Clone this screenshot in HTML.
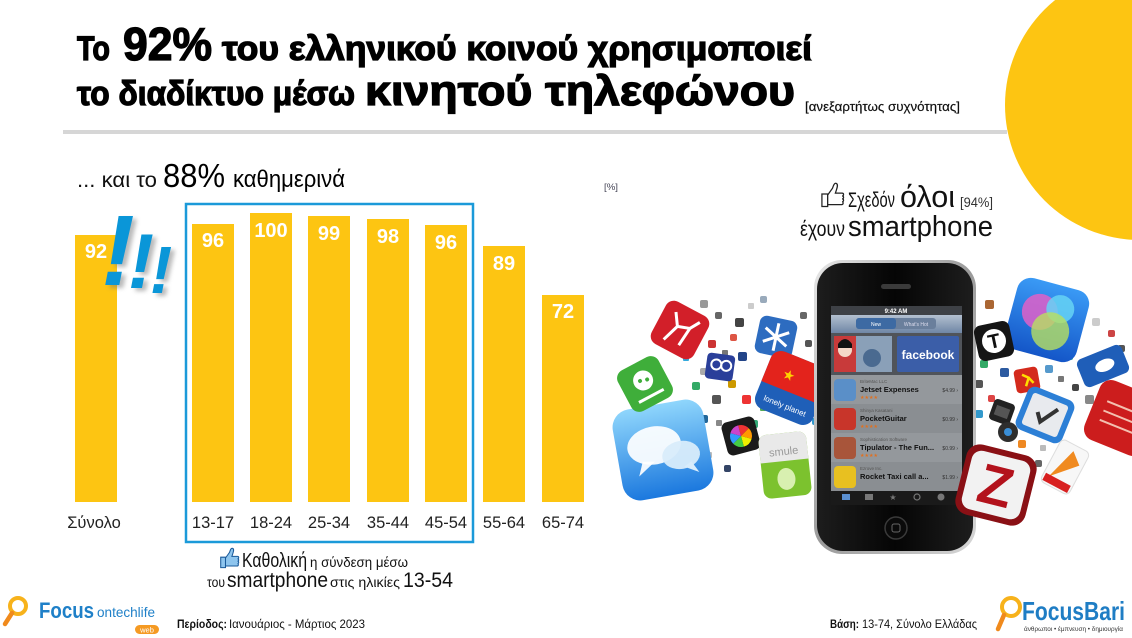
<!DOCTYPE html>
<html><head><meta charset="utf-8">
<style>
html,body{margin:0;padding:0;background:#fff;}
body{width:1132px;height:638px;overflow:hidden;position:relative;}
svg{position:absolute;left:0;top:0;}
text{font-family:"Liberation Sans","DejaVu Sans",sans-serif;}
</style></head><body>
<svg width="1132" height="638" viewBox="0 0 1132 638" xmlns="http://www.w3.org/2000/svg">
<defs>
  <symbol id="thumb" viewBox="0 0 26 30">
    <path d="M2 14 h6 v13 h-6 z" />
    <path d="M8 15 L13 8 C14 5 15 2 17 3 C19 4 18 7 17 10 L16 13 H23 C25 13 25 16 23 16 C25 16 25 19 23 19 C25 19 25 22 23 22 C24.5 22 24.5 25 22.5 25 H8 Z"/>
  </symbol>
  <linearGradient id="gChat" x1="0" y1="0" x2="0" y2="1"><stop offset="0" stop-color="#8fd6fc"/><stop offset="1" stop-color="#1b78de"/></linearGradient>
  <linearGradient id="gVenn" x1="0" y1="0" x2="0" y2="1"><stop offset="0" stop-color="#3a9af5"/><stop offset="1" stop-color="#1456c8"/></linearGradient>
  <linearGradient id="gNav" x1="0" y1="0" x2="0" y2="1"><stop offset="0" stop-color="#b3c0d0"/><stop offset="1" stop-color="#6f86a5"/></linearGradient>
  <linearGradient id="gRim" x1="0" y1="0" x2="1" y2="1"><stop offset="0" stop-color="#e8e8e8"/><stop offset="0.5" stop-color="#9a9a9a"/><stop offset="1" stop-color="#d8d8d8"/></linearGradient>
  <linearGradient id="gBody" x1="0" y1="0" x2="1" y2="0"><stop offset="0" stop-color="#1d1d1d"/><stop offset="0.5" stop-color="#050505"/><stop offset="1" stop-color="#1d1d1d"/></linearGradient>
  <filter id="sh" x="-30%" y="-30%" width="160%" height="160%"><feGaussianBlur stdDeviation="2"/></filter>
</defs>

<!-- yellow circle -->
<circle cx="1140" cy="105" r="135" fill="#FDC512"/>
<!-- gray rule -->
<rect x="63" y="130" width="944" height="4" fill="#d6d6d6"/>

<!-- Title -->
<g fill="#000" stroke="#000" stroke-width="1.3" font-weight="bold">
  <text x="77" y="60" font-size="34" textLength="33" lengthAdjust="spacingAndGlyphs">Το</text>
  <text x="123" y="60" font-size="46" textLength="89" lengthAdjust="spacingAndGlyphs">92%</text>
  <text x="222" y="60" font-size="34" textLength="590" lengthAdjust="spacingAndGlyphs">του ελληνικού κοινού χρησιμοποιεί</text>
  <text x="77" y="105" font-size="34" textLength="278" lengthAdjust="spacingAndGlyphs">το διαδίκτυο μέσω</text>
  <text x="365" y="105" font-size="42" textLength="430" lengthAdjust="spacingAndGlyphs">κινητού τηλεφώνου</text>
</g>
<text x="805" y="111" font-size="13" fill="#111" stroke="#111" stroke-width="0.2" textLength="155" lengthAdjust="spacingAndGlyphs">[ανεξαρτήτως συχνότητας]</text>

<!-- subheading -->
<text x="77" y="187" font-size="21" fill="#111" textLength="80" lengthAdjust="spacingAndGlyphs">... και το</text>
<text x="163" y="187" font-size="33" fill="#000" textLength="62" lengthAdjust="spacingAndGlyphs">88%</text>
<text x="233" y="187" font-size="24" fill="#000" textLength="112" lengthAdjust="spacingAndGlyphs">καθημερινά</text>
<text x="604" y="190" font-size="9" fill="#445" textLength="14" lengthAdjust="spacingAndGlyphs">[%]</text>

<!-- Bars -->
<g fill="#FDC512">
  <rect x="75" y="235" width="42" height="267"/>
  <rect x="192" y="224" width="42" height="278"/>
  <rect x="250" y="213" width="42" height="289"/>
  <rect x="308" y="216" width="42" height="286"/>
  <rect x="367" y="219" width="42" height="283"/>
  <rect x="425" y="225" width="42" height="277"/>
  <rect x="483" y="246" width="42" height="256"/>
  <rect x="542" y="295" width="42" height="207"/>
</g>
<g fill="#fff" font-size="20" font-weight="bold" text-anchor="middle">
  <text x="96" y="258">92</text>
  <text x="213" y="247">96</text>
  <text x="271" y="237">100</text>
  <text x="329" y="240">99</text>
  <text x="388" y="243">98</text>
  <text x="446" y="249">96</text>
  <text x="504" y="270">89</text>
  <text x="563" y="318">72</text>
</g>
<g fill="#222" font-size="16.5" text-anchor="middle">
  <text x="94" y="528">Σύνολο</text>
  <text x="213" y="528">13-17</text>
  <text x="271" y="528">18-24</text>
  <text x="329" y="528">25-34</text>
  <text x="388" y="528">35-44</text>
  <text x="446" y="528">45-54</text>
  <text x="504" y="528">55-64</text>
  <text x="563" y="528">65-74</text>
</g>
<!-- blue box -->
<rect x="186" y="204" width="287" height="338" fill="none" stroke="#1b9ad9" stroke-width="2.5"/>

<!-- exclamation marks -->
<g font-weight="bold" font-style="italic" text-anchor="middle">
  <g fill="#777" opacity="0.5" filter="url(#sh)">
    <text x="122" y="288" font-size="100">!</text>
    <text x="145" y="291" font-size="78">!</text>
    <text x="165" y="296" font-size="67">!</text>
  </g>
  <g fill="#0a96d8">
    <text x="118" y="285" font-size="100">!</text>
    <text x="141" y="288" font-size="78">!</text>
    <text x="161" y="293" font-size="67">!</text>
  </g>
</g>

<!-- Right text -->
<use href="#thumb" x="820" y="180" width="25" height="30" fill="#fff" stroke="#222" stroke-width="1.3"/>
<text x="848" y="207" font-size="21" fill="#111" textLength="47" lengthAdjust="spacingAndGlyphs">Σχεδόν</text>
<text x="900" y="207" font-size="31" fill="#111" textLength="55" lengthAdjust="spacingAndGlyphs">όλοι</text>
<text x="960" y="207" font-size="14" fill="#333" textLength="33" lengthAdjust="spacingAndGlyphs">[94%]</text>
<text x="800" y="236" font-size="21" fill="#111" textLength="45" lengthAdjust="spacingAndGlyphs">έχουν</text>
<text x="848" y="236" font-size="29" fill="#111" textLength="145" lengthAdjust="spacingAndGlyphs">smartphone</text>

<!-- ===== phone image ===== -->
<g>
  <rect x="700" y="300" width="8" height="8" rx="2" fill="#999"/>
  <rect x="715" y="312" width="7" height="7" rx="2" fill="#666"/>
  <rect x="735" y="318" width="9" height="9" rx="2" fill="#444"/>
  <rect x="748" y="303" width="6" height="6" rx="1" fill="#ccc"/>
  <rect x="760" y="296" width="7" height="7" rx="2" fill="#9ab"/>
  <rect x="708" y="340" width="8" height="8" rx="2" fill="#c33"/>
  <rect x="722" y="350" width="6" height="6" rx="1" fill="#777"/>
  <rect x="738" y="352" width="9" height="9" rx="2" fill="#248"/>
  <rect x="700" y="368" width="7" height="7" rx="2" fill="#aaa"/>
  <rect x="692" y="382" width="8" height="8" rx="2" fill="#3a6"/>
  <rect x="712" y="395" width="9" height="9" rx="2" fill="#555"/>
  <rect x="728" y="380" width="8" height="8" rx="2" fill="#c90"/>
  <rect x="742" y="395" width="9" height="9" rx="2" fill="#e33"/>
  <rect x="700" y="415" width="8" height="8" rx="2" fill="#269"/>
  <rect x="716" y="420" width="6" height="6" rx="1" fill="#888"/>
  <rect x="690" y="438" width="7" height="7" rx="2" fill="#444"/>
  <rect x="706" y="452" width="6" height="6" rx="1" fill="#bbb"/>
  <rect x="760" y="405" width="6" height="6" rx="1" fill="#5a5"/>
  <rect x="724" y="465" width="7" height="7" rx="2" fill="#346"/>
  <rect x="815" y="440" width="8" height="8" rx="2" fill="#cc3"/>
  <rect x="812" y="418" width="7" height="7" rx="2" fill="#39c"/>
  <rect x="818" y="300" width="6" height="6" rx="1" fill="#bbb"/>
  <rect x="800" y="312" width="7" height="7" rx="2" fill="#666"/>
  <rect x="690" y="330" width="6" height="6" rx="1" fill="#ccc"/>
  <rect x="683" y="355" width="6" height="6" rx="1" fill="#3ad"/>
  <rect x="730" y="334" width="7" height="7" rx="2" fill="#d54"/>
  <rect x="750" y="420" width="8" height="8" rx="2" fill="#3a7"/>
  <rect x="805" y="340" width="7" height="7" rx="2" fill="#555"/>
  <rect x="985" y="300" width="9" height="9" rx="2" fill="#a63"/>
  <rect x="975" y="380" width="8" height="8" rx="2" fill="#555"/>
  <rect x="988" y="395" width="7" height="7" rx="2" fill="#d44"/>
  <rect x="975" y="410" width="8" height="8" rx="2" fill="#39c"/>
  <rect x="1070" y="300" width="7" height="7" rx="2" fill="#666"/>
  <rect x="1092" y="318" width="8" height="8" rx="2" fill="#ccc"/>
  <rect x="1108" y="330" width="7" height="7" rx="2" fill="#c44"/>
  <rect x="1085" y="395" width="9" height="9" rx="2" fill="#888"/>
  <rect x="1100" y="390" width="7" height="7" rx="2" fill="#2a6"/>
  <rect x="1018" y="440" width="8" height="8" rx="2" fill="#e82"/>
  <rect x="1040" y="445" width="6" height="6" rx="1" fill="#bbb"/>
  <rect x="1118" y="345" width="7" height="7" rx="2" fill="#555"/>
  <rect x="1065" y="352" width="8" height="8" rx="2" fill="#3b8"/>
  <rect x="1072" y="384" width="7" height="7" rx="2" fill="#444"/>
  <rect x="1045" y="365" width="8" height="8" rx="2" fill="#59c"/>
  <rect x="1058" y="376" width="6" height="6" rx="1" fill="#777"/>
  <rect x="968" y="440" width="8" height="8" rx="2" fill="#b33"/>
  <rect x="1035" y="460" width="7" height="7" rx="2" fill="#666"/>
  <rect x="980" y="360" width="8" height="8" rx="2" fill="#3a6"/>
  <rect x="1000" y="368" width="9" height="9" rx="2" fill="#2c5aa0"/>
  <rect x="968" y="320" width="6" height="6" rx="1" fill="#a44"/>
</g>

<!-- big icons left -->
<g transform="translate(663,450) rotate(-10)">
  <rect x="-46" y="-46" width="92" height="92" rx="18" fill="url(#gChat)"/>
  <ellipse cx="-8" cy="-6" rx="27" ry="19" fill="#fff" opacity="0.92"/>
  <path d="M-22 8 L-28 22 L-10 10 Z" fill="#fff" opacity="0.92"/>
  <ellipse cx="17" cy="8" rx="19" ry="14" fill="#d8ecfb" opacity="0.95"/>
  <path d="M26 16 L32 28 L18 20 Z" fill="#d8ecfb"/>
</g>
<g transform="translate(680,330) rotate(28)">
  <rect x="-24" y="-24" width="48" height="48" rx="9" fill="#d21f29"/>
  <path d="M-10 16 L-4 -2 L-12 -14 M-4 -2 L8 -6 L14 -16 M8 -6 L6 14" stroke="#fff" stroke-width="3" fill="none"/>
</g>
<g transform="translate(645,384) rotate(-28)">
  <rect x="-23" y="-23" width="46" height="46" rx="9" fill="#3fae3a"/>
  <circle cx="0" cy="-4" r="10" fill="#fff"/>
  <circle cx="-3" cy="-5" r="2" fill="#3fae3a"/><circle cx="4" cy="-3" r="2" fill="#3fae3a"/>
  <rect x="-14" y="12" width="28" height="3" fill="#fff"/>
</g>
<g transform="translate(776,337) rotate(12)">
  <rect x="-19" y="-19" width="38" height="38" rx="7" fill="#2d6cc0"/>
  <path d="M0 -14 V14 M-12 -7 L12 7 M-12 7 L12 -7" stroke="#fff" stroke-width="3"/>
</g>
<g transform="translate(720,367) rotate(8)">
  <rect x="-14" y="-13" width="28" height="26" rx="4" fill="#2a3f9a"/>
  <circle cx="-4" cy="-2" r="5" fill="none" stroke="#fff" stroke-width="2"/>
  <circle cx="6" cy="-2" r="5" fill="none" stroke="#fff" stroke-width="2"/>
</g>
<g transform="translate(792,388) rotate(22)">
  <rect x="-31" y="-31" width="62" height="62" rx="11" fill="#1f5fb8"/>
  <path d="M-31 5 V-20 A11 11 0 0 1 -20 -31 H20 A11 11 0 0 1 31 -20 V5 Z" fill="#e3231c"/>
  <text x="-14" y="-6" font-size="14" fill="#ffd400">★</text>
  <text x="0" y="22" font-size="8" fill="#fff" text-anchor="middle">lonely planet</text>
</g>
<g transform="translate(741,436) rotate(-15)">
  <rect x="-17" y="-17" width="34" height="34" rx="6" fill="#1a1a1a"/>
  <path d="M0 0 L0 -11 A11 11 0 0 1 9.5 -5.5 Z" fill="#e33"/>
  <path d="M0 0 L9.5 -5.5 A11 11 0 0 1 9.5 5.5 Z" fill="#f90"/>
  <path d="M0 0 L9.5 5.5 A11 11 0 0 1 0 11 Z" fill="#ee0"/>
  <path d="M0 0 L0 11 A11 11 0 0 1 -9.5 5.5 Z" fill="#4c4"/>
  <path d="M0 0 L-9.5 5.5 A11 11 0 0 1 -9.5 -5.5 Z" fill="#39f"/>
  <path d="M0 0 L-9.5 -5.5 A11 11 0 0 1 0 -11 Z" fill="#c4c"/>
</g>
<g transform="translate(785,465) rotate(-6)">
  <rect x="-24" y="-32" width="48" height="64" rx="8" fill="#7cc22e"/>
  <path d="M-24 -4 V-24 A8 8 0 0 1 -16 -32 H16 A8 8 0 0 1 24 -24 V-4 Z" fill="#e9e9e9"/>
  <text x="0" y="-10" font-size="11" fill="#999" text-anchor="middle">smule</text>
  <ellipse cx="0" cy="14" rx="9" ry="11" fill="#d8f0b0"/>
</g>

<!-- phone -->
<rect x="814" y="260" width="162" height="294" rx="28" fill="url(#gRim)"/>
<rect x="817" y="263" width="156" height="288" rx="26" fill="url(#gBody)"/>
<rect x="881" y="284" width="30" height="5" rx="2.5" fill="#3a3a3a"/>
<rect x="831" y="306" width="131" height="199" fill="#85898e"/>
<rect x="831" y="306" width="131" height="9" fill="#3e4146"/>
<text x="896" y="313" font-size="6" fill="#fff" text-anchor="middle" font-weight="bold">9:42 AM</text>
<rect x="831" y="315" width="131" height="18" fill="url(#gNav)"/>
<rect x="856" y="318" width="80" height="11" rx="3" fill="#6a7f9c"/>
<rect x="856" y="318" width="40" height="11" rx="3" fill="#3d6aa3"/>
<text x="876" y="326" font-size="5" fill="#fff" text-anchor="middle">New</text>
<text x="916" y="326" font-size="5" fill="#dde" text-anchor="middle">What's Hot</text>
<rect x="831" y="333" width="131" height="42" fill="#50545a"/>
<rect x="834" y="336" width="58" height="36" fill="#8aa0b8"/>
<rect x="834" y="336" width="22" height="36" fill="#c83a3a"/>
<circle cx="845" cy="350" r="7" fill="#f4d8c8"/>
<path d="M838 344 Q845 334 852 344 L852 348 L838 348 Z" fill="#111"/>
<circle cx="872" cy="358" r="9" fill="#4a6a90"/>
<rect x="897" y="336" width="62" height="36" rx="2" fill="#3b5ea8"/>
<text x="928" y="359" font-size="12" fill="#fff" text-anchor="middle" font-weight="bold">facebook</text>
<g>
  <rect x="831" y="375" width="131" height="29" fill="#94989c"/>
  <rect x="831" y="404" width="131" height="29" fill="#8a8e92"/>
  <rect x="831" y="433" width="131" height="29" fill="#94989c"/>
  <rect x="831" y="462" width="131" height="29" fill="#8a8e92"/>
  <rect x="834" y="379" width="22" height="22" rx="4" fill="#5a8fc8"/>
  <rect x="834" y="408" width="22" height="22" rx="4" fill="#c8352a"/>
  <rect x="834" y="437" width="22" height="22" rx="4" fill="#a8553a"/>
  <rect x="834" y="466" width="22" height="22" rx="4" fill="#e8c020"/>
  <g font-size="4.5" fill="#555">
    <text x="860" y="383">BriteMac LLC</text>
    <text x="860" y="412">Shinya Kasatani</text>
    <text x="860" y="441">Sophistication Software</text>
    <text x="860" y="470">Ezrove Inc.</text>
  </g>
  <g font-size="7.5" fill="#111" font-weight="bold">
    <text x="860" y="392">Jetset Expenses</text>
    <text x="860" y="421">PocketGuitar</text>
    <text x="860" y="450">Tipulator - The Fun...</text>
    <text x="860" y="479">Rocket Taxi call a...</text>
  </g>
  <g font-size="5" fill="#e07020">
    <text x="860" y="399">★★★★</text>
    <text x="860" y="428">★★★★</text>
    <text x="860" y="457">★★★★</text>
  </g>
  <g font-size="5" fill="#333" text-anchor="end">
    <text x="958" y="392">$4.99 ›</text>
    <text x="958" y="421">$0.99 ›</text>
    <text x="958" y="450">$0.99 ›</text>
    <text x="958" y="479">$1.99 ›</text>
  </g>
</g>
<rect x="831" y="491" width="131" height="14" fill="#1a1a1a"/>
<g fill="#777">
  <rect x="842" y="494" width="8" height="6" fill="#5a8fd0"/>
  <rect x="865" y="494" width="8" height="6"/>
  <text x="893" y="500" font-size="8" text-anchor="middle">★</text>
  <circle cx="917" cy="497" r="3" fill="none" stroke="#777" stroke-width="1.2"/>
  <circle cx="941" cy="497" r="3.5"/>
</g>
<circle cx="896" cy="528" r="11" fill="#0a0a0a" stroke="#3a3a3a" stroke-width="1.5"/>
<rect x="892" y="524" width="8" height="8" rx="2" fill="none" stroke="#666" stroke-width="1"/>

<!-- big icons right -->
<g transform="translate(1047,320) rotate(15)">
  <rect x="-37" y="-37" width="74" height="74" rx="14" fill="url(#gVenn)"/>
  <circle cx="-9" cy="-6" r="18" fill="#e060c8" opacity="0.85"/>
  <circle cx="10" cy="-14" r="14" fill="#66d4f4" opacity="0.85"/>
  <circle cx="6" cy="10" r="19" fill="#b8e060" opacity="0.8"/>
</g>
<g transform="translate(994,341) rotate(-12)">
  <rect x="-18" y="-18" width="36" height="36" rx="7" fill="#151515"/>
  <circle cx="0" cy="0" r="12" fill="#fff"/>
  <text x="0" y="7" font-size="20" fill="#111" text-anchor="middle" font-weight="bold" font-family="Liberation Serif, serif">T</text>
</g>
<g transform="translate(1027,380) rotate(-10)">
  <rect x="-12" y="-12" width="24" height="24" rx="4" fill="#d42a1c"/>
  <path d="M-4 -6 L2 -2 L-2 6 M2 -2 L6 4" stroke="#fd0" stroke-width="2.5" fill="none"/>
</g>
<g transform="translate(1002,412) rotate(20)">
  <rect x="-11" y="-11" width="22" height="22" rx="4" fill="#222"/>
  <rect x="-7" y="-5" width="14" height="10" fill="#555"/>
</g>
<circle cx="1008" cy="432" r="10" fill="#2e2e2e"/>
<circle cx="1008" cy="432" r="4" fill="#3a8fd8"/>
<g transform="translate(1045,415) rotate(22)">
  <rect x="-25" y="-23" width="50" height="46" rx="8" fill="#2c7fd6"/>
  <rect x="-19" y="-17" width="38" height="34" rx="3" fill="#e8eaee"/>
  <path d="M-8 0 L-2 8 L10 -10" stroke="#333" stroke-width="4" fill="none"/>
</g>
<g transform="translate(1103,366) rotate(-22)">
  <rect x="-24" y="-15" width="48" height="30" rx="6" fill="#1f5eb8"/>
  <ellipse cx="2" cy="0" rx="10" ry="6" fill="#fff"/>
</g>
<g transform="translate(1122,418) rotate(22)">
  <rect x="-32" y="-32" width="64" height="64" rx="12" fill="#cc1d1d"/>
  <path d="M-20 -10 H20 M-20 0 H20 M-20 10 H20" stroke="#f3c0b0" stroke-width="2"/>
</g>
<g transform="translate(1065,467) rotate(28)">
  <rect x="-16" y="-24" width="32" height="48" rx="5" fill="#f7f7f7" stroke="#ddd"/>
  <path d="M-10 16 L0 -18 L12 -8 Z" fill="#f08a20"/>
  <rect x="-14" y="14" width="28" height="8" fill="#d82020"/>
</g>
<g transform="translate(996,485) rotate(14)">
  <rect x="-36" y="-36" width="72" height="72" rx="14" fill="#8a1015"/>
  <rect x="-30" y="-30" width="60" height="60" rx="10" fill="#f2f2f2"/>
  <text x="0" y="20" font-size="56" fill="#b3121c" text-anchor="middle" font-weight="bold">Z</text>
</g>

<!-- bottom caption -->
<use href="#thumb" x="219" y="546" width="21" height="24" fill="#8ec5ee" stroke="#1a5a9a" stroke-width="1.3"/>
<text x="242" y="567" font-size="20" fill="#111" textLength="65" lengthAdjust="spacingAndGlyphs">Καθολική</text>
<text x="310" y="567" font-size="14" fill="#111" textLength="98" lengthAdjust="spacingAndGlyphs">η σύνδεση μέσω</text>
<text x="207" y="587" font-size="14" fill="#111" textLength="18" lengthAdjust="spacingAndGlyphs">του</text>
<text x="227" y="587" font-size="21" fill="#111" textLength="101" lengthAdjust="spacingAndGlyphs">smartphone</text>
<text x="330" y="587" font-size="14" fill="#111" textLength="70" lengthAdjust="spacingAndGlyphs">στις ηλικίες</text>
<text x="403" y="587" font-size="21" fill="#111" textLength="50" lengthAdjust="spacingAndGlyphs">13-54</text>

<!-- footer left logo -->
<circle cx="18" cy="606" r="8" fill="none" stroke="#f7b21b" stroke-width="4"/>
<line x1="12" y1="613" x2="5" y2="624" stroke="#f08a1c" stroke-width="4.5" stroke-linecap="round"/>
<text x="39" y="618" font-size="22" font-weight="bold" fill="#1f80c8" textLength="55" lengthAdjust="spacingAndGlyphs">Focus</text>
<text x="97" y="617" font-size="14" fill="#1f80c8" textLength="58" lengthAdjust="spacingAndGlyphs">ontechlife</text>
<rect x="135" y="625" width="24" height="9" rx="4.5" fill="#f59a23"/>
<text x="147" y="632.5" font-size="7.5" fill="#fff" text-anchor="middle">web</text>

<text x="177" y="628" font-size="12" font-weight="bold" fill="#111" textLength="50" lengthAdjust="spacingAndGlyphs">Περίοδος:</text>
<text x="229" y="628" font-size="12" fill="#111" textLength="136" lengthAdjust="spacingAndGlyphs">Ιανουάριος - Μάρτιος 2023</text>

<text x="830" y="628" font-size="12" font-weight="bold" fill="#111" textLength="29" lengthAdjust="spacingAndGlyphs">Βάση:</text>
<text x="862" y="628" font-size="12" fill="#111" textLength="115" lengthAdjust="spacingAndGlyphs">13-74, Σύνολο Ελλάδας</text>

<!-- footer right logo -->
<circle cx="1011" cy="607" r="9" fill="none" stroke="#f7b21b" stroke-width="4"/>
<line x1="1004" y1="615" x2="998" y2="629" stroke="#f08a1c" stroke-width="4.5" stroke-linecap="round"/>
<text x="1022" y="620" font-size="26" font-weight="bold" fill="#1f7dc4" textLength="103" lengthAdjust="spacingAndGlyphs">FocusBari</text>
<text x="1024" y="631" font-size="6.5" fill="#333" textLength="99" lengthAdjust="spacingAndGlyphs">άνθρωποι • έμπνευση • δημιουργία</text>
</svg>
</body></html>
